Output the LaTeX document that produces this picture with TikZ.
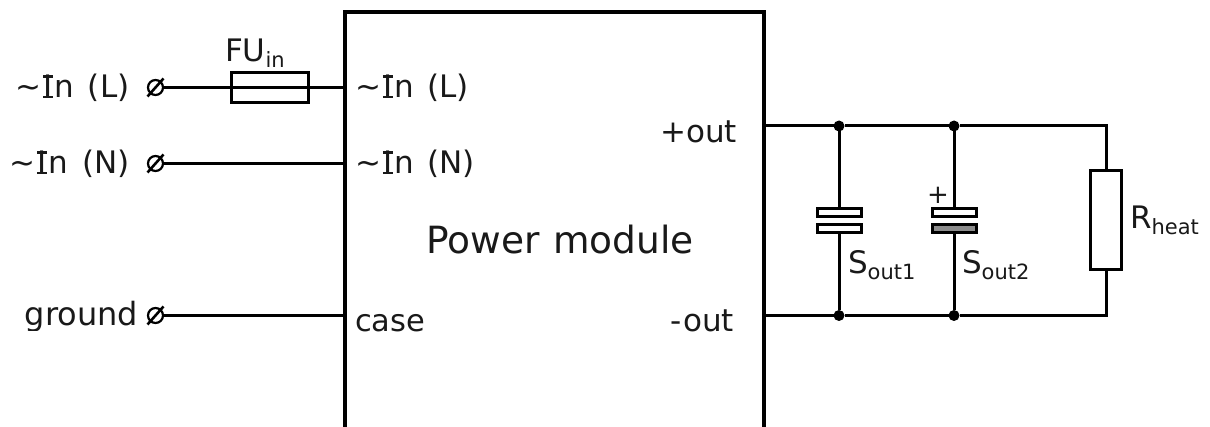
\documentclass[tikz,border=0pt]{standalone}
\usepackage{fontspec}
\setmainfont[WordSpace=1.15]{DejaVu Sans}
\usetikzlibrary{calc}
\newcommand{\subtxt}[1]{{\fontsize{21}{21}\selectfont\raisebox{-5.5pt}{#1}}}
% Verdana-style capital I: the real letter with small bars added
\newcommand{\serifI}{\mbox{\kern.07em\rlap{\kern-.01em\rule[-.01em]{.315em}{.09em}\kern-.315em\rule[.65em]{.315em}{.085em}}I\kern.07em}}
\newcommand{\tld}{\symbol{126}}
\newcommand{\paren}[1]{\kern.07em(#1)\kern.05em}
\tikzset{
  x=1pt,y=-1pt,
  thin wire/.style={line width=3pt,black},
  lbl/.style={inner sep=0pt,outer sep=0pt,font=\fontsize{31}{31}\selectfont,text=black!90},
  term/.style={circle,draw,line width=2.2pt,fill=white,inner sep=0pt,minimum size=15pt,outer sep=0pt},
  part/.style={rectangle,draw,line width=3pt,fill=white,inner sep=0pt,outer sep=0pt},
  plate/.style={part,minimum width=44pt,minimum height=8pt},
  junction/.style={circle,fill=black,inner sep=0pt,minimum size=11pt,outer sep=0pt}
}
\newcommand{\terminal}[2]{%
  \node[term] (#1) at #2 {};
  \draw[line width=2.6pt] ($(#1)+(-8,9)$) -- ($(#1)+(8,-9)$);
}
\begin{document}
\begin{tikzpicture}
\useasboundingbox (0,0) rectangle (1210,427);
% power module (runs off the bottom)
\begin{scope}
\clip (0,0) rectangle (1210,427);
\node[rectangle,draw,line width=3.2pt,inner sep=0pt,outer sep=0pt,minimum width=419pt,minimum height=460pt,anchor=north west] (pm) at (345,12) {};
\end{scope}
% input terminals
\terminal{tL}{(155.5,87.5)}
\terminal{tN}{(155.5,163.5)}
\terminal{tG}{(155.5,315.5)}
\draw[thin wire] (tL.east) -- (tL.east -| pm.west);
\draw[thin wire] (tN.east) -- (tN.east -| pm.west);
\draw[thin wire] (tG.east) -- (tG.east -| pm.west);
\node[part,minimum width=77pt,minimum height=30pt,fill=none] (fu) at (269.5,87.5) {};
% output side
\coordinate (corTop) at (1106,126);
\coordinate (corBot) at (1106,315.5);
\node[junction] (j1t) at (839,126) {};
\node[junction] (j2t) at (954,126) {};
\node[junction] (j1b) at (839,315.5) {};
\node[junction] (j2b) at (954,315.5) {};
\node[part,minimum width=31pt,minimum height=99pt] (rh) at (1106,220.5) {};
\node[plate] (c1a) at (839,213) {};
\node[plate] (c1b) at (839,229) {};
\node[plate] (c2a) at (954,213) {};
\node[plate,fill=black!45] (c2b) at (954,229) {};
\draw[thin wire] (j1t -| pm.east) -- (j1t) -- (j2t) -- (corTop) -- (rh.north);
\draw[thin wire] (j1b -| pm.east) -- (j1b) -- (j2b) -- (corBot) -- (rh.south);
\draw[thin wire] (j1t) -- (c1a.north);
\draw[thin wire] (j2t) -- (c2a.north);
\draw[thin wire] (c1b.south) -- (j1b);
\draw[thin wire] (c2b.south) -- (j2b);
% labels
\node[lbl,anchor=base east] (tlL) at (131,98) {\tld\serifI n \paren{L}};
\node[lbl,anchor=base east] (tlN) at (131,174) {\tld\serifI n \paren{N}};
\begin{scope}
\clip (0,0) rectangle (200,331);
\node[lbl,anchor=base east,font=\fontsize{32}{32}\selectfont] (tlG) at (138,326) {ground};
\end{scope}
\node[lbl,anchor=base west] (ilL) at (355,98) {\tld\serifI n \paren{L}};
\node[lbl,anchor=base west] (ilN) at (355,174) {\tld\serifI n \paren{N}};
\node[lbl,anchor=base west,font=\fontsize{30.5}{30.5}\selectfont] (ilC) at (355,332) {case};
\node[lbl,anchor=base east] (olP) at (737,143) {+out};
\node[lbl,anchor=base east] (olM) at (734,332) {-\kern.05em out};
\node[lbl,anchor=base,font=\fontsize{37.5}{37.5}\selectfont] (title) at (560,254) {Power module};
\node[lbl,anchor=base west] (fut) at (225,62) {FU\subtxt{in}};
\node[lbl,anchor=base west] (s1) at (848,274) {S\subtxt{out1}};
\node[lbl,anchor=base west] (s2) at (962,274) {S\subtxt{out2}};
\node[lbl,anchor=base west] (rt) at (1130,229) {R\subtxt{heat}};
\node[lbl,anchor=base,font=\fontsize{26}{26}\selectfont] (plus) at (938,204) {+};
\end{tikzpicture}
\end{document}
